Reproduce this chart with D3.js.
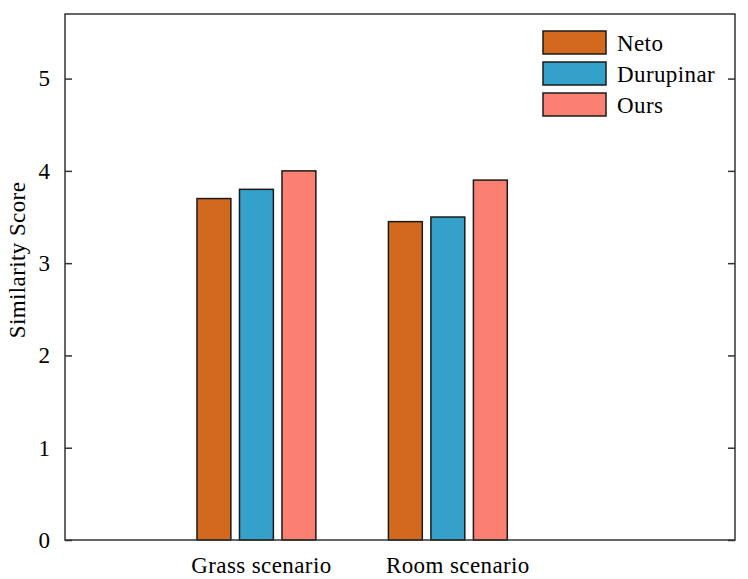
<!DOCTYPE html>
<html>
<head>
<meta charset="utf-8">
<script src="https://cdn.jsdelivr.net/npm/d3@7"></script>
<style>
  html, body { margin: 0; padding: 0; background: #fff; }
  svg { display: block; }
  text { font-family: "Liberation Serif", "Times New Roman", serif; fill: #000; }
</style>
</head>
<body>
<svg id="chart" width="748" height="579"></svg>
<script>
const categories = ["Grass scenario", "Room scenario"];
const seriesNames = ["Neto", "Durupinar", "Ours"];
const neto = [3.7, 3.45];
const durupinar = [3.8, 3.5];
const ours = [4.0, 3.9];
const yTicks = [0, 1, 2, 3, 4, 5];
const colors = ["#D2691E", "#33A1C9", "#FA8072"];

const seriesValues = [neto, durupinar, ours];
const svg = d3.select("#chart");
const margin = { left: 65, top: 14, right: 13, bottom: 39 };
const W = 748, H = 579;
const x0 = margin.left, x1 = W - margin.right, y0 = H - margin.bottom, y1 = margin.top;
const FS = 23, LS = "0.4px";

const x = d3.scaleLinear().domain([0, 3.5]).range([x0, x1]);
const y = d3.scaleLinear().domain([0, 5.7]).range([y0, y1]);

const barW = 0.177, offset = 0.222;

// bars
seriesValues.forEach((vals, s) => {
  svg.append("g").selectAll("rect").data(vals).join("rect")
    .attr("x", (d, i) => x(i + 1 + (s - 1) * offset - barW / 2))
    .attr("width", x(barW) - x(0))
    .attr("y", d => y(d))
    .attr("height", d => y(0) - y(d))
    .attr("fill", colors[s])
    .attr("stroke", "#1a1a1a")
    .attr("stroke-width", 1.5);
});

// left axis with inward ticks
const axL = svg.append("g").attr("transform", `translate(${x0},0)`)
  .call(d3.axisLeft(y).tickValues(yTicks).tickSize(-7).tickPadding(15).tickFormat(d3.format("d")));
axL.select(".domain").remove();
axL.selectAll(".tick line").attr("stroke", "#333").attr("stroke-width", 1.5);
axL.selectAll(".tick text").attr("font-size", FS).attr("font-family", "Liberation Serif").attr("fill", "#000");

// right axis inward ticks
const axR = svg.append("g").attr("transform", `translate(${x1},0)`)
  .call(d3.axisRight(y).tickValues(yTicks).tickSize(-7).tickFormat(""));
axR.select(".domain").remove();
axR.selectAll(".tick line").attr("stroke", "#333").attr("stroke-width", 1.5);

// x labels
svg.append("g").selectAll("text").data(categories).join("text")
  .attr("x", (d, i) => x(i + 1) + 5 + 5 * i)
  .attr("y", 573)
  .attr("text-anchor", "middle")
  .attr("font-size", FS)
  .attr("letter-spacing", LS)
  .text(d => d);

// frame
svg.append("rect")
  .attr("x", x0).attr("y", y1)
  .attr("width", x1 - x0).attr("height", y0 - y1)
  .attr("fill", "none").attr("stroke", "#333").attr("stroke-width", 1.5);

// y label
svg.append("text")
  .attr("transform", `translate(25,260) rotate(-90)`)
  .attr("text-anchor", "middle")
  .attr("font-size", FS)
  .attr("letter-spacing", LS)
  .text("Similarity Score");

// legend
const lg = svg.append("g").attr("transform", "translate(543,31)");
seriesNames.forEach((name, i) => {
  lg.append("rect").attr("x", 0).attr("y", i * 31).attr("width", 63).attr("height", 23)
    .attr("fill", colors[i]).attr("stroke", "#1a1a1a").attr("stroke-width", 1.5);
  lg.append("text").attr("x", 74).attr("y", i * 31 + 20).attr("font-size", FS)
    .attr("letter-spacing", LS).text(name);
});
</script>
</body>
</html>
